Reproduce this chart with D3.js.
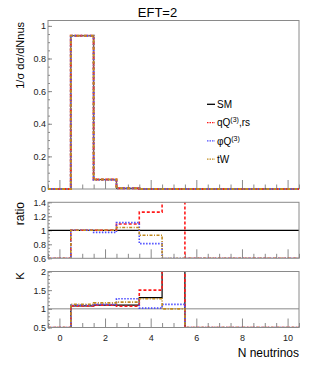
<!DOCTYPE html>
<html>
<head>
<meta charset="utf-8">
<script src="https://cdn.jsdelivr.net/npm/d3@7"></script>
<style>
  body { margin: 0; background: #fff; }
  svg { font-family: "Liberation Sans", Arial, Helvetica, sans-serif; }
</style>
</head>
<body>
<div id="canvas"></div>
<script>
// bin centres (N neutrinos), bins are 1 wide
const bins = [0, 1, 2, 3, 4, 5, 6, 7, 8, 9, 10];

// normalised distributions
const mainSM   = [0, 0.94, 0.058, 0.004, 0, 0, 0, 0, 0, 0, 0];
const mainQQ   = [0, 0.94, 0.058, 0.0045, 0, 0, 0, 0, 0, 0, 0];
const mainPhiQ = [0, 0.94, 0.056, 0.0044, 0, 0, 0, 0, 0, 0, 0];
const mainTW   = [0, 0.94, 0.058, 0.0042, 0, 0, 0, 0, 0, 0, 0];

// ratio to SM
const ratioQQ   = [0, 1.0, 1.0, 1.09, 1.26, 1.6, 0, 0, 0, 0, 0];
const ratioPhiQ = [0, 1.0, 0.97, 1.11, 0.81, 0, 0, 0, 0, 0, 0];
const ratioTW   = [0, 1.0, 1.0, 1.04, 0.93, 0, 0, 0, 0, 0, 0];

// K factors
const kSM   = [0, 1.08, 1.1, 1.1, 1.3, 2.5, 0, 0, 0, 0, 0];
const kQQ   = [0, 1.08, 1.1, 1.07, 1.5, 2.5, 0, 0, 0, 0, 0];
const kPhiQ = [0, 1.1, 1.12, 1.27, 1.02, 1.12, 0, 0, 0, 0, 0];
const kTW   = [0, 1.12, 1.16, 1.18, 1.27, 1.0, 0, 0, 0, 0, 0];

const xTicks = [0, 2, 4, 6, 8, 10];

const W = 315, H = 377;
const left = 48, right = 299;
const frameCol = "#8a8a8a";

const styles = {
  SM:   { color: "#000", dash: null, width: 1.2 },
  QQ:   { color: "#ff1a1a", dash: "3,2", width: 1.6 },
  PhiQ: { color: "#4d4dff", dash: "1.5,1.5", width: 1.6 },
  TW:   { color: "#c08a1e", dash: "3,1.5,1,1.5", width: 1.6 }
};

const svg = d3.select("#canvas").append("svg")
  .attr("width", W)
  .attr("height", H);

const x = d3.scaleLinear().domain([-0.5, 10.5]).range([left, right]);

const minorX = d3.range(-0.5, 10.51, 0.5).filter(v => v % 2 !== 0);

let clipN = 0;

function histPoints(vals) {
  const pts = vals.map((v, i) => [bins[i] - 0.5, v]);
  pts.push([bins[bins.length - 1] + 0.5, vals[vals.length - 1]]);
  return pts;
}

function panel(top, bottom, yDomain, yMajor, yMinor, fmt, showXLabels, frameOnTop) {
  const y = d3.scaleLinear().domain(yDomain).range([bottom, top]);
  const g = svg.append("g");

  // values above the frame run out of it
  const id = "clip" + (clipN++);
  svg.append("clipPath").attr("id", id)
    .append("rect")
    .attr("x", left - 1).attr("y", top)
    .attr("width", right - left + 2).attr("height", bottom - top + (frameOnTop ? -0.5 : 1));

  // x ticks along the bottom, pointing up
  g.append("g")
    .attr("transform", `translate(0,${bottom})`)
    .call(d3.axisBottom(x).tickValues(minorX).tickSizeInner(-4.5).tickSizeOuter(0).tickFormat(""))
    .call(a => a.select(".domain").remove())
    .call(a => a.selectAll("line").attr("stroke", frameCol));
  const xa = g.append("g")
    .attr("transform", `translate(0,${bottom})`)
    .call(d3.axisBottom(x).tickValues(xTicks).tickSizeInner(-9).tickSizeOuter(0).tickPadding(7)
      .tickFormat(showXLabels ? d3.format("d") : ""))
    .call(a => a.select(".domain").remove())
    .call(a => a.selectAll("line").attr("stroke", frameCol));
  xa.selectAll("text").style("font-size", "9px").attr("fill", "#222");

  // y ticks on the left, pointing right
  g.append("g")
    .attr("transform", `translate(${left},0)`)
    .call(d3.axisLeft(y).tickValues(yMinor).tickSizeInner(-2).tickSizeOuter(0).tickFormat(""))
    .call(a => a.select(".domain").remove())
    .call(a => a.selectAll("line").attr("stroke", frameCol));
  const ya = g.append("g")
    .attr("transform", `translate(${left},0)`)
    .call(d3.axisLeft(y).tickValues(yMajor).tickSizeInner(-4).tickSizeOuter(0).tickPadding(2).tickFormat(fmt))
    .call(a => a.select(".domain").remove())
    .call(a => a.selectAll("line").attr("stroke", frameCol));
  ya.selectAll("text").style("font-size", "9px").attr("fill", "#222");

  const frame = () => g.append("rect")
    .attr("x", left).attr("y", top)
    .attr("width", right - left).attr("height", bottom - top)
    .attr("fill", "none").attr("stroke", frameCol).attr("stroke-width", 1);

  if (!frameOnTop) frame();
  const plot = g.append("g").attr("clip-path", `url(#${id})`);
  if (frameOnTop) frame();
  return { g, plot, y, lo: yDomain[0] };
}

function drawHist(p, vals, st) {
  const line = d3.line()
    .x(d => x(d[0]))
    .y(d => p.y(Math.max(d[1], p.lo)))
    .curve(d3.curveStepAfter);
  p.plot.append("path")
    .datum(histPoints(vals))
    .attr("d", line)
    .attr("fill", "none")
    .attr("stroke", st.color)
    .attr("stroke-width", st.width)
    .attr("stroke-dasharray", st.dash);
}

// main panel
const mainP = panel(20.5, 189, [0, 1.033],
  [0, 0.2, 0.4, 0.6, 0.8, 1],
  d3.range(0, 1.03, 0.05),
  d => d === 0 || d === 1 ? d3.format("d")(d) : d3.format(".1f")(d), false, false);
drawHist(mainP, mainSM, { color: "#000", dash: null, width: 0.8 });
drawHist(mainP, mainQQ, { ...styles.QQ, width: 2 });
drawHist(mainP, mainPhiQ, { ...styles.PhiQ, width: 2 });
drawHist(mainP, mainTW, { ...styles.TW, width: 2 });

// ratio panel
const ratioP = panel(202.3, 258.3, [0.6, 1.4],
  [0.6, 0.8, 1, 1.2, 1.4],
  d3.range(0.6, 1.41, 0.05),
  d => d === 1 ? "1" : d3.format(".1f")(d), false, true);
ratioP.plot.append("line")
  .attr("x1", left).attr("x2", right)
  .attr("y1", ratioP.y(1)).attr("y2", ratioP.y(1))
  .attr("stroke", "#000").attr("stroke-width", 1.3);
drawHist(ratioP, ratioQQ, styles.QQ);
drawHist(ratioP, ratioPhiQ, styles.PhiQ);
drawHist(ratioP, ratioTW, styles.TW);

// K panel
const kP = panel(271.5, 327.5, [0.5, 2],
  [0.5, 1, 1.5, 2],
  d3.range(0.5, 2.01, 0.1),
  d => d % 1 === 0 ? d3.format("d")(d) : d3.format(".1f")(d), true, true);
kP.plot.append("line")
  .attr("x1", left).attr("x2", right)
  .attr("y1", kP.y(1)).attr("y2", kP.y(1))
  .attr("stroke", frameCol).attr("stroke-width", 1);
drawHist(kP, kSM, styles.SM);
drawHist(kP, kQQ, styles.QQ);
drawHist(kP, kPhiQ, styles.PhiQ);
drawHist(kP, kTW, styles.TW);

// title
svg.append("text")
  .attr("x", 157.5).attr("y", 17)
  .attr("text-anchor", "middle")
  .style("font-size", "13px")
  .text("EFT=2");

// axis titles
function yTitle(txt, yEnd, size) {
  svg.append("text")
    .attr("transform", `translate(24,${yEnd}) rotate(-90)`)
    .attr("text-anchor", "end")
    .style("font-size", size)
    .text(txt);
}
yTitle("1/\u03c3 d\u03c3/dNnus", 22, "11px");
yTitle("ratio", 202, "12px");
yTitle("K", 272, "11.5px");

svg.append("text")
  .attr("x", right).attr("y", 356.5)
  .attr("text-anchor", "end")
  .style("font-size", "12px")
  .text("N neutrinos");

// legend
const legendItems = [
  { key: "SM", label: "SM", sup: null, tail: "" },
  { key: "QQ", label: "qQ", sup: "(3)", tail: ",rs" },
  { key: "PhiQ", label: "\u03c6Q", sup: "(3)", tail: "" },
  { key: "TW", label: "tW", sup: null, tail: "" }
];
const leg = svg.append("g");
legendItems.forEach((it, i) => {
  const cy = 104.3 + i * 18.3;
  const st = styles[it.key];
  leg.append("line")
    .attr("x1", 207).attr("x2", 215)
    .attr("y1", cy).attr("y2", cy)
    .attr("stroke", st.color)
    .attr("stroke-width", it.key === "SM" ? 1.3 : 1.2)
    .attr("stroke-dasharray", it.key === "SM" ? null : "1.5,1");
  const t = leg.append("text")
    .attr("x", 217).attr("y", cy + 3.6)
    .style("font-size", "10px")
    .text(it.label);
  if (it.sup) {
    t.append("tspan").attr("dy", -4).style("font-size", "7px").text(it.sup);
    t.append("tspan").attr("dy", 4).text(it.tail);
  }
});
</script>
</body>
</html>
